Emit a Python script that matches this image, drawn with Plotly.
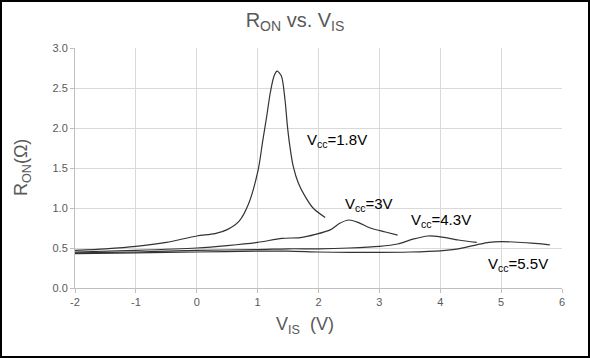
import plotly.graph_objects as go

# ---- data ----
v18 = [-2, -1.5, -1, -0.5, 0, 0.3, 0.5, 0.7, 0.85, 1.01, 1.08, 1.15, 1.21, 1.27, 1.32, 1.39, 1.45, 1.49, 1.53, 1.585, 1.67, 1.78, 1.91, 2.11]
r18 = [0.47, 0.49, 0.52, 0.57, 0.65, 0.68, 0.73, 0.84, 1.05, 1.48, 1.82, 2.15, 2.45, 2.65, 2.71, 2.65, 2.35, 2.02, 1.77, 1.52, 1.31, 1.145, 1.0, 0.88]

v30 = [-2, -1, 0, 0.5, 1.0, 1.4, 1.7, 1.95, 2.2, 2.35, 2.5, 2.65, 2.85, 3.1, 3.3]
r30 = [0.45, 0.47, 0.50, 0.53, 0.57, 0.62, 0.63, 0.67, 0.73, 0.81, 0.85, 0.82, 0.75, 0.70, 0.66]

v43 = [-2, -1, 0, 1, 1.5, 2, 2.5, 3.0, 3.3, 3.55, 3.8, 4.0, 4.3, 4.6]
r43 = [0.44, 0.45, 0.47, 0.48, 0.49, 0.49, 0.50, 0.52, 0.55, 0.61, 0.65, 0.64, 0.60, 0.57]

v55 = [-2, -1, 0, 1, 1.5, 2, 2.5, 3, 3.5, 4.0, 4.3, 4.6, 4.8, 5.0, 5.2, 5.5, 5.8]
r55 = [0.43, 0.44, 0.45, 0.46, 0.46, 0.45, 0.445, 0.445, 0.45, 0.465, 0.49, 0.54, 0.57, 0.58, 0.575, 0.56, 0.54]

x_ticks = [-2, -1, 0, 1, 2, 3, 4, 5, 6]
y_ticks = [0.0, 0.5, 1.0, 1.5, 2.0, 2.5, 3.0]

labels = ["V<sub>cc</sub>=1.8V", "V<sub>cc</sub>=3V", "V<sub>cc</sub>=4.3V", "V<sub>cc</sub>=5.5V"]
label_x = [1.77, 2.40, 3.48, 4.75]
label_y = [1.85, 1.04, 0.84, 0.29]

FONT = "Liberation Sans, Arial, sans-serif"
LINE = "#333333"

fig = go.Figure()
for vx, ry, nm in [(v18, r18, "1.8"), (v30, r30, "3"), (v43, r43, "4.3"), (v55, r55, "5.5")]:
    fig.add_trace(go.Scatter(x=vx, y=ry, mode="lines", name=nm,
                             line=dict(color=LINE, width=1.2, shape="spline", smoothing=0.8),
                             showlegend=False, hoverinfo="skip"))

for t, lx, ly in zip(labels, label_x, label_y):
    fig.add_annotation(x=lx, y=ly, text=t, showarrow=False, xanchor="left", yanchor="middle",
                       font=dict(family=FONT, size=15, color="#000000"))

# axis titles
fig.add_annotation(xref="paper", yref="paper", x=(305 - 75) / 487, y=(288 - 325) / 240,
                   text="V<sub>IS</sub>\u00a0\u00a0(V)", showarrow=False, xanchor="center", yanchor="middle",
                   font=dict(family=FONT, size=18, color="#595959"))
fig.add_annotation(xref="paper", yref="paper", x=(22 - 75) / 487, y=(288 - 168) / 240,
                   text="R<sub>ON</sub>(Ω)", showarrow=False, textangle=-90,
                   xanchor="center", yanchor="middle",
                   font=dict(family=FONT, size=18, color="#595959"))

# outer border
fig.add_shape(type="rect", xref="paper", yref="paper",
              x0=(1 - 75) / 487, x1=(589 - 75) / 487,
              y0=(288 - 357) / 240, y1=(288 - 1) / 240,
              line=dict(color="#000000", width=2), fillcolor="rgba(0,0,0,0)", layer="above")

fig.update_layout(
    width=590, height=358,
    margin=dict(l=75, r=28, t=48, b=70),
    paper_bgcolor="white", plot_bgcolor="white",
    title=dict(text="R<sub>ON</sub> vs. V<sub>IS</sub>", x=0.5, xref="container", xanchor="center",
               y=1 - 20 / 358, yanchor="middle", font=dict(family=FONT, size=20, color="#595959")),
    font=dict(family=FONT, size=11, color="#595959"),
    xaxis=dict(range=[-2, 6], tickvals=x_ticks, ticktext=[str(t) for t in x_ticks],
               showgrid=True, gridcolor="#d9d9d9", gridwidth=1,
               showline=True, linecolor="#bfbfbf", linewidth=1,
               ticks="outside", ticklen=4, tickcolor="#bfbfbf",
               zeroline=False, tickfont=dict(family=FONT, size=11, color="#595959")),
    yaxis=dict(range=[0, 3], tickvals=y_ticks, ticktext=[f"{t:.1f}" for t in y_ticks],
               showgrid=True, gridcolor="#d9d9d9", gridwidth=1,
               showline=True, linecolor="#bfbfbf", linewidth=1,
               ticks="outside", ticklen=4, tickcolor="#bfbfbf",
               zeroline=False, tickfont=dict(family=FONT, size=11, color="#595959")),
)

fig.write_html("out.html", config={"displayModeBar": False},
               post_script="document.body.style.margin='0px';document.body.style.overflow='hidden';")
